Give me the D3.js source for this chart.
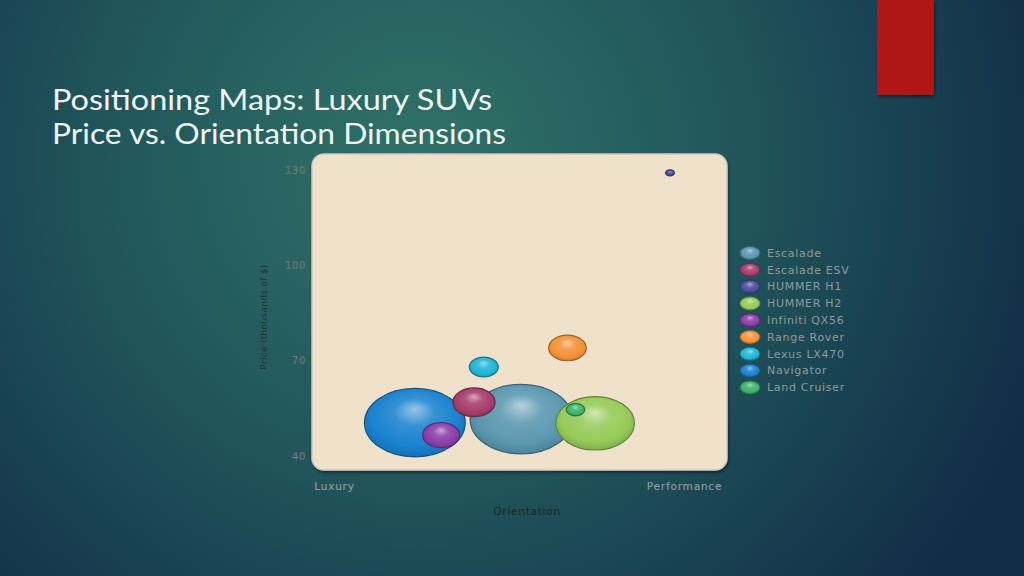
<!DOCTYPE html>
<html>
<head>
<meta charset="utf-8">
<script src="https://cdn.jsdelivr.net/npm/d3@7"></script>
<style>
  html, body { margin: 0; padding: 0; background: #173d4a; }
  svg { display: block; }
</style>
</head>
<body>
<div id="chart"></div>
<script>
// Chart data
var brands = ["Escalade", "Escalade ESV", "HUMMER H1", "HUMMER H2", "Infiniti QX56",
  "Range Rover", "Lexus LX470", "Navigator", "Land Cruiser"];
var orientation = [5.35, 4.0, 9.6, 7.46, 3.06, 6.67, 4.28, 2.31, 6.9];   // 0 = luxury, 10 = performance
var price = [51.6, 56.9, 129.1, 50.3, 46.6, 74.0, 68.0, 50.5, 54.6];     // thousands of $
var bubbleSize = [100, 17, 0.75, 59, 13, 13.5, 8, 97, 3.3];
var colors = ["#5a98b0", "#a53d6c", "#4a4e9c", "#96cb58", "#8a3ea8",
  "#f2933a", "#1fb5d6", "#1a82cf", "#3ab368"];
var yTicks = [40, 70, 100, 130];
var xTicks = [0, 10];
var xTickLabels = ["Luxury", "Performance"];

// SVG area
var svgWidth = 1024;
var svgHeight = 576;

var svg = d3.select("#chart")
  .append("svg")
  .attr("width", svgWidth)
  .attr("height", svgHeight);

var defs = svg.append("defs");

// Slide background
var bg = defs.append("radialGradient")
  .attr("id", "bg")
  .attr("gradientUnits", "userSpaceOnUse")
  .attr("cx", 420).attr("cy", 160).attr("r", 650);
bg.append("stop").attr("offset", "0%").attr("stop-color", "#307267");
bg.append("stop").attr("offset", "45%").attr("stop-color", "#22585c");
bg.append("stop").attr("offset", "100%").attr("stop-color", "#112e48");

svg.append("rect")
  .attr("width", svgWidth)
  .attr("height", svgHeight)
  .attr("fill", "url(#bg)");

// Red accent block top right
var shadow = defs.append("filter").attr("id", "shadow")
  .attr("x", "-10%").attr("y", "-10%").attr("width", "130%").attr("height", "130%");
shadow.append("feDropShadow")
  .attr("dx", 1).attr("dy", 2).attr("stdDeviation", 1.5)
  .attr("flood-color", "#000").attr("flood-opacity", 0.45);

svg.append("rect")
  .attr("x", 877).attr("y", 0)
  .attr("width", 57).attr("height", 95)
  .attr("fill", "#b01717")
  .attr("filter", "url(#shadow)");

// Title
var title = svg.append("g")
  .attr("font-family", "Lato, 'Open Sans', sans-serif")
  .attr("font-size", 28)
  .attr("fill", "#eef4f3")
  .style("white-space", "pre");
title.append("text")
  .attr("x", 52).attr("y", 110)
  .attr("textLength", 440).attr("lengthAdjust", "spacingAndGlyphs")
  .text("Positioning Maps:  Luxury SUVs");
title.append("text")
  .attr("x", 52).attr("y", 144)
  .attr("textLength", 454).attr("lengthAdjust", "spacingAndGlyphs")
  .text("Price vs. Orientation Dimensions");

// Plot area
var plot = { left: 312, top: 154, width: 415, height: 316 };

svg.append("rect")
  .attr("x", plot.left).attr("y", plot.top)
  .attr("width", plot.width).attr("height", plot.height)
  .attr("rx", 12).attr("ry", 12)
  .attr("fill", "#f0e2ca")
  .attr("stroke", "#cfc9c2")
  .attr("stroke-width", 1.5)
  .attr("filter", "url(#shadow)");

// Scales
var xScale = d3.scaleLinear()
  .domain([0, 10])
  .range([334, 684]);

var yScale = d3.scaleLinear()
  .domain([40, 130])
  .range([456, 170]);

var rScale = d3.scaleSqrt()
  .domain([0, 100])
  .range([0, 34.8]);

// the slide stretched the chart sideways, so bubbles are ellipses
var stretch = 1.47;

// Axes
var leftAxis = d3.axisLeft(yScale)
  .tickValues(yTicks)
  .tickSize(0)
  .tickPadding(0);

var bottomAxis = d3.axisBottom(xScale)
  .tickValues(xTicks)
  .tickSize(0)
  .tickFormat(function(d, i) { return xTickLabels[i]; });

var yAxisG = svg.append("g")
  .attr("transform", "translate(306, 0)")
  .call(leftAxis);

var xAxisG = svg.append("g")
  .attr("transform", "translate(0, 480)")
  .call(bottomAxis);

[yAxisG, xAxisG].forEach(function(g) {
  g.select(".domain").remove();
  g.selectAll("text")
    .attr("font-family", "'DejaVu Sans', sans-serif")
    .attr("fill", "#5d6c6c")
    .attr("stroke", "#9aa3a3")
    .attr("stroke-width", 0.15);
});
yAxisG.selectAll("text").attr("font-size", 10).attr("letter-spacing", 0.6);
xAxisG.selectAll("text").attr("font-size", 10.5).attr("letter-spacing", 0.8)
  .attr("fill", "#8d9898");

// Axis titles
svg.append("text")
  .attr("transform", "translate(267, 317) rotate(-90)")
  .attr("text-anchor", "middle")
  .attr("font-family", "'DejaVu Sans', sans-serif")
  .attr("font-size", 9)
  .attr("letter-spacing", 0.3)
  .attr("fill", "#263030")
  .text("Price (thousands of $)");

svg.append("text")
  .attr("x", 527).attr("y", 515)
  .attr("text-anchor", "middle")
  .attr("font-family", "'DejaVu Sans', sans-serif")
  .attr("font-size", 11)
  .attr("letter-spacing", 0.5)
  .attr("fill", "#1e2626")
  .text("Orientation");

// Shaded gradients for each bubble
var grads = defs.selectAll(".bub")
  .data(colors)
  .enter()
  .append("radialGradient")
  .attr("class", "bub")
  .attr("id", function(d, i) { return "bub" + i; })
  .attr("cx", "50%").attr("cy", "45%").attr("r", "58%")
  .attr("fx", "50%").attr("fy", "30%");
grads.append("stop").attr("offset", "0%")
  .attr("stop-color", function(d) { return d3.interpolateRgb(d, "#ffffff")(0.55); });
grads.append("stop").attr("offset", "35%")
  .attr("stop-color", function(d) { return d3.interpolateRgb(d, "#ffffff")(0.12); });
grads.append("stop").attr("offset", "75%")
  .attr("stop-color", function(d) { return d; });
grads.append("stop").attr("offset", "100%")
  .attr("stop-color", function(d) { return d3.color(d).darker(0.5); });

// Bubbles, largest drawn first
var bubbles = brands.map(function(b, i) {
  return { brand: b, x: orientation[i], y: price[i], size: bubbleSize[i], i: i };
});
bubbles.sort(function(a, b) { return b.size - a.size; });

svg.append("g").selectAll("ellipse")
  .data(bubbles)
  .enter()
  .append("ellipse")
  .attr("cx", function(d) { return xScale(d.x); })
  .attr("cy", function(d) { return yScale(d.y); })
  .attr("rx", function(d) { return Math.max(rScale(d.size) * stretch, 4); })
  .attr("ry", function(d) { return Math.max(rScale(d.size), 2.8); })
  .attr("fill", function(d) { return "url(#bub" + d.i + ")"; })
  .attr("stroke", function(d) { return d3.color(colors[d.i]).darker(1.2); })
  .attr("stroke-width", 1.2);

// Legend
var legend = svg.append("g")
  .attr("transform", "translate(750, 253)");

var rows = legend.selectAll("g")
  .data(brands)
  .enter()
  .append("g")
  .attr("transform", function(d, i) { return "translate(0," + (i * 16.8) + ")"; });

rows.append("ellipse")
  .attr("rx", 10).attr("ry", 6.5)
  .attr("fill", function(d, i) { return "url(#bub" + i + ")"; })
  .attr("stroke", function(d, i) { return d3.color(colors[i]).darker(1.2); })
  .attr("stroke-width", 1);

rows.append("text")
  .attr("x", 17)
  .attr("dy", "0.35em")
  .attr("font-family", "'DejaVu Sans', sans-serif")
  .attr("font-size", 11)
  .attr("letter-spacing", 0.7)
  .attr("fill", "#8f9a9a")
  .text(function(d) { return d; });
</script>
</body>
</html>
